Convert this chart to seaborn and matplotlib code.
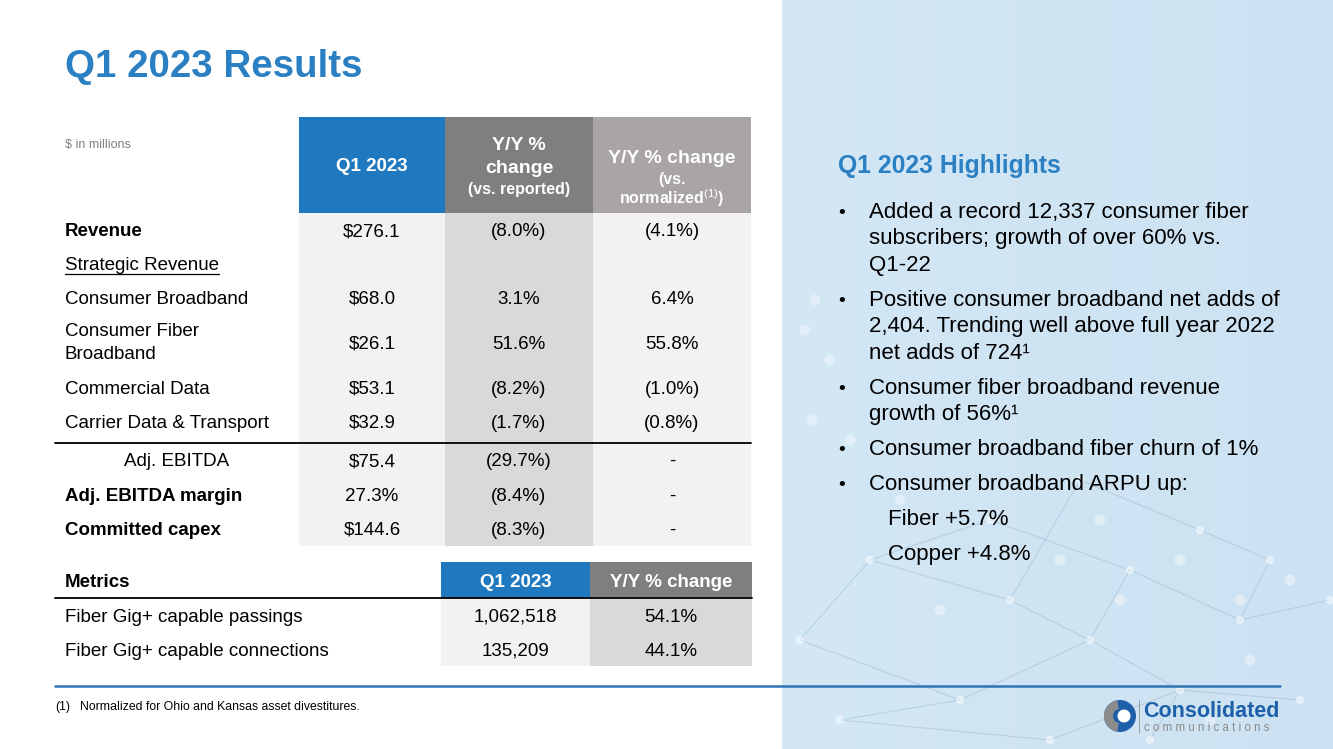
import numpy as np
import matplotlib.pyplot as plt
import matplotlib.patches as mpatches
import seaborn as sns

# ---- table data -------------------------------------------------------
row_labels = ["Revenue", "Strategic Revenue", "Consumer Broadband",
              "Consumer Fiber\nBroadband", "Commercial Data",
              "Carrier Data & Transport", "Adj. EBITDA",
              "Adj. EBITDA margin", "Committed capex"]
q1_2023 = ["$276.1", "", "$68.0", "$26.1", "$53.1", "$32.9",
           "$75.4", "27.3%", "$144.6"]
yoy_reported = ["(8.0%)", "", "3.1%", "51.6%", "(8.2%)", "(1.7%)",
                "(29.7%)", "(8.4%)", "(8.3%)"]
yoy_normalized = ["(4.1%)", "", "6.4%", "55.8%", "(1.0%)", "(0.8%)",
                  "-", "-", "-"]

metric_labels = ["Fiber Gig+ capable passings", "Fiber Gig+ capable connections"]
metric_q1 = ["1,062,518", "135,209"]
metric_yoy = ["54.1%", "44.1%"]

highlights = [
    ["Added a record 12,337 consumer fiber", "subscribers; growth of over 60% vs.", "Q1-22"],
    ["Positive consumer broadband net adds of", "2,404. Trending well above full year 2022",
     "net adds of 724\u00b9"],
    ["Consumer fiber broadband revenue", "growth of 56%\u00b9"],
    ["Consumer broadband fiber churn of 1%"],
    ["Consumer broadband ARPU up:"],
]
arpu_items = ["Fiber +5.7%", "Copper +4.8%"]

# ---- styling ----------------------------------------------------------
sns.set_theme(style="white")
plt.rcParams['font.family'] = ['Liberation Sans', 'DejaVu Sans']
plt.rcParams['text.color'] = 'black'
plt.rcParams['mathtext.fontset'] = 'custom'
plt.rcParams['mathtext.rm'] = 'Liberation Sans'

BLUE = "#2079be"
TITLE_BLUE = "#2a80c3"
DARK_GRAY = "#7f7f7f"
MID_GRAY = "#a8a5a4"
LIGHT = "#f2f2f2"
SHADE = "#d9d9d9"
FS = 13.5


def cap_half(size):
    # half the cap height in pixels (Arial-like cap height 0.716 em, 100 dpi)
    return 0.716 * size * 100 / 72 / 2


def put(x, yc, s, size, **kw):
    # place text so its cap height is centred on yc, independent of glyphs
    return ax.text(x, yc + cap_half(size) - 1, s, fontsize=size,
                   va="baseline", **kw)


row_weight = ["bold", "normal", "normal", "normal", "normal", "normal",
              "normal", "bold", "bold"]
row_heights = [35, 33, 34, 56, 34, 38, 35, 34, 34]

fig = plt.figure(figsize=(13.33, 7.49), dpi=100)
ax = fig.add_axes([0, 0, 1, 1])
ax.set_xlim(0, 1333)
ax.set_ylim(749, 0)
ax.axis("off")

# right panel background with faint network texture
grad = np.linspace(0, 1, 256).reshape(1, -1)
cmap = sns.blend_palette(["#d3e7f5", "#cce2f2"], as_cmap=True)
ax.imshow(grad, cmap=cmap, extent=(782, 1333, 749, 0), aspect="auto", zorder=0)
nodes = np.array([[800, 640], [870, 560], [960, 700], [1010, 600], [1090, 640],
                  [1130, 570], [1180, 690], [1240, 620], [1300, 700], [1270, 560],
                  [1200, 530], [1330, 600], [840, 720], [1050, 740], [1150, 740],
                  [1080, 480], [990, 520]])
edges = [(0, 1), (0, 2), (1, 3), (2, 4), (3, 4), (4, 5), (4, 6), (5, 7), (6, 8),
         (7, 9), (9, 10), (7, 11), (2, 12), (6, 13), (6, 14), (3, 15), (15, 10),
         (1, 16), (16, 5), (12, 13)]
for a, b in edges:
    ax.plot(nodes[[a, b], 0], nodes[[a, b], 1], color="#8fa9bd", lw=0.7,
            alpha=0.4, zorder=0.5)
ax.scatter(nodes[:, 0], nodes[:, 1], s=35, color="white", alpha=0.55,
           edgecolor="none", zorder=0.6)
dots = np.array([[815, 300], [805, 330], [830, 360], [812, 420], [850, 440],
                 [1120, 600], [1060, 560], [1180, 560], [1240, 600], [1290, 580],
                 [1250, 660], [1210, 720], [1100, 520], [940, 610], [900, 500]])
ax.scatter(dots[:, 0], dots[:, 1], s=60, color="white", alpha=0.4,
           edgecolor="none", zorder=0.6)

# title
put(65, 64, "Q1 2023 Results", 27.7, fontweight="bold", color=TITLE_BLUE)
put(65, 145, "$ in millions", 9, color="#7f7f7f")

# ---- main table -------------------------------------------------------
col_x = [299, 445, 593, 751]
col_fill = [LIGHT, SHADE, LIGHT]
head_fill = [BLUE, DARK_GRAY, MID_GRAY]
head_top, head_bot = 117, 213
edges_y = head_bot + np.concatenate([[0], np.cumsum(row_heights)])
body_bot = edges_y[-1]

for i in range(3):
    ax.add_patch(mpatches.Rectangle((col_x[i], head_top), col_x[i + 1] - col_x[i],
                                    head_bot - head_top, color=head_fill[i], lw=0))
    ax.add_patch(mpatches.Rectangle((col_x[i], head_bot), col_x[i + 1] - col_x[i],
                                    body_bot - head_bot, color=col_fill[i], lw=0))

cx = [(col_x[i] + col_x[i + 1]) / 2 for i in range(3)]
hw = dict(color="white", fontweight="bold", ha="center")
put(cx[0], 165, "Q1 2023", 13.5, **hw)
put(cx[1], 144, "Y/Y %", 14, **hw)
put(cx[1], 167, "change", 14, **hw)
put(cx[1], 189, "(vs. reported)", 11.5, **hw)
put(cx[2], 157, "Y/Y % change", 14, **hw)
put(cx[2], 179, "(vs.", 11.5, **hw)
put(cx[2], 199, r"normalized$^{(1)}$)", 11.5, **hw)

fig.canvas.draw()
renderer = fig.canvas.get_renderer()
inv = ax.transData.inverted()

for i, lab in enumerate(row_labels):
    yc = (edges_y[i] + edges_y[i + 1]) / 2
    if lab == "Carrier Data & Transport":
        yc -= 2
    if lab == "Adj. EBITDA":
        put(177, yc, lab, FS, ha="center")
    elif "\n" in lab:
        ax.text(65, yc, lab, fontsize=FS, ha="left", va="center",
                linespacing=1.45)
    else:
        t = put(65, yc, lab, FS, fontweight=row_weight[i], ha="left")
        if lab == "Strategic Revenue":
            bb = t.get_window_extent(renderer)
            x1 = inv.transform((bb.x1, bb.y0))[0]
            ax.plot([65, x1], [yc + 9, yc + 9], color="black", lw=0.9)
    for j, vals in enumerate([q1_2023, yoy_reported, yoy_normalized]):
        put(cx[j], yc, vals[i], FS, ha="center")

ax.plot([55, 751], [edges_y[6], edges_y[6]], color="black", lw=1.3)

# ---- metrics table ----------------------------------------------------
m_x = [441, 590, 752]
m_top, m_head_bot = 562, 598
m_row_h = 34
m_bot = m_head_bot + m_row_h * len(metric_labels)
for i, (hf, bf) in enumerate([(BLUE, LIGHT), (DARK_GRAY, SHADE)]):
    ax.add_patch(mpatches.Rectangle((m_x[i], m_top), m_x[i + 1] - m_x[i],
                                    m_head_bot - m_top, color=hf, lw=0))
    ax.add_patch(mpatches.Rectangle((m_x[i], m_head_bot), m_x[i + 1] - m_x[i],
                                    m_bot - m_head_bot, color=bf, lw=0))
mcx = [(m_x[i] + m_x[i + 1]) / 2 for i in range(2)]
put(65, 581, "Metrics", FS, fontweight="bold")
put(mcx[0], 581, "Q1 2023", FS, **hw)
put(mcx[1], 581, "Y/Y % change", FS, **hw)
ax.plot([55, 752], [m_head_bot, m_head_bot], color="black", lw=1.3)
for i, lab in enumerate(metric_labels):
    yc = m_head_bot + m_row_h * (i + 0.5) + 1
    put(65, yc, lab, FS)
    put(mcx[0], yc, metric_q1[i], FS, ha="center")
    put(mcx[1], yc, metric_yoy[i], FS, ha="center")

# ---- highlights -------------------------------------------------------
put(838, 165, "Q1 2023 Highlights", 17.8, fontweight="bold", color=TITLE_BLUE)
y = 211
for para in highlights:
    ax.text(842, y + 2, "\u2022", fontsize=14, va="center", ha="center")
    for line in para:
        put(869, y, line, 16)
        y += 26.5
    y += 8.5
for item in arpu_items:
    put(888, y, item, 16)
    y += 35

# ---- footer -----------------------------------------------------------
ax.plot([55, 1280], [686, 686], color="#2e75b6", lw=1.8)
put(55, 707, "(1)", 8.8)
put(80, 707, "Normalized for Ohio and Kansas asset divestitures.", 8.8)

# logo
ax.add_patch(mpatches.Circle((1120, 716), 16, color="#1d5fa8", lw=0))
ax.add_patch(mpatches.Wedge((1120, 716), 16, 100, 260, width=9,
                            color="#8c8c8c", lw=0))
ax.add_patch(mpatches.Circle((1124, 716), 6.5, color="white", lw=0))
ax.plot([1139, 1139], [700, 733], color="#9a9a9a", lw=0.7)
put(1143, 710, "Consolidated", 15.5, fontweight="bold", color="#1d5fa8")
put(1144, 728, " ".join("communications"), 8.3, color="#8a8a8a")

fig.savefig("out.png", dpi=100)
